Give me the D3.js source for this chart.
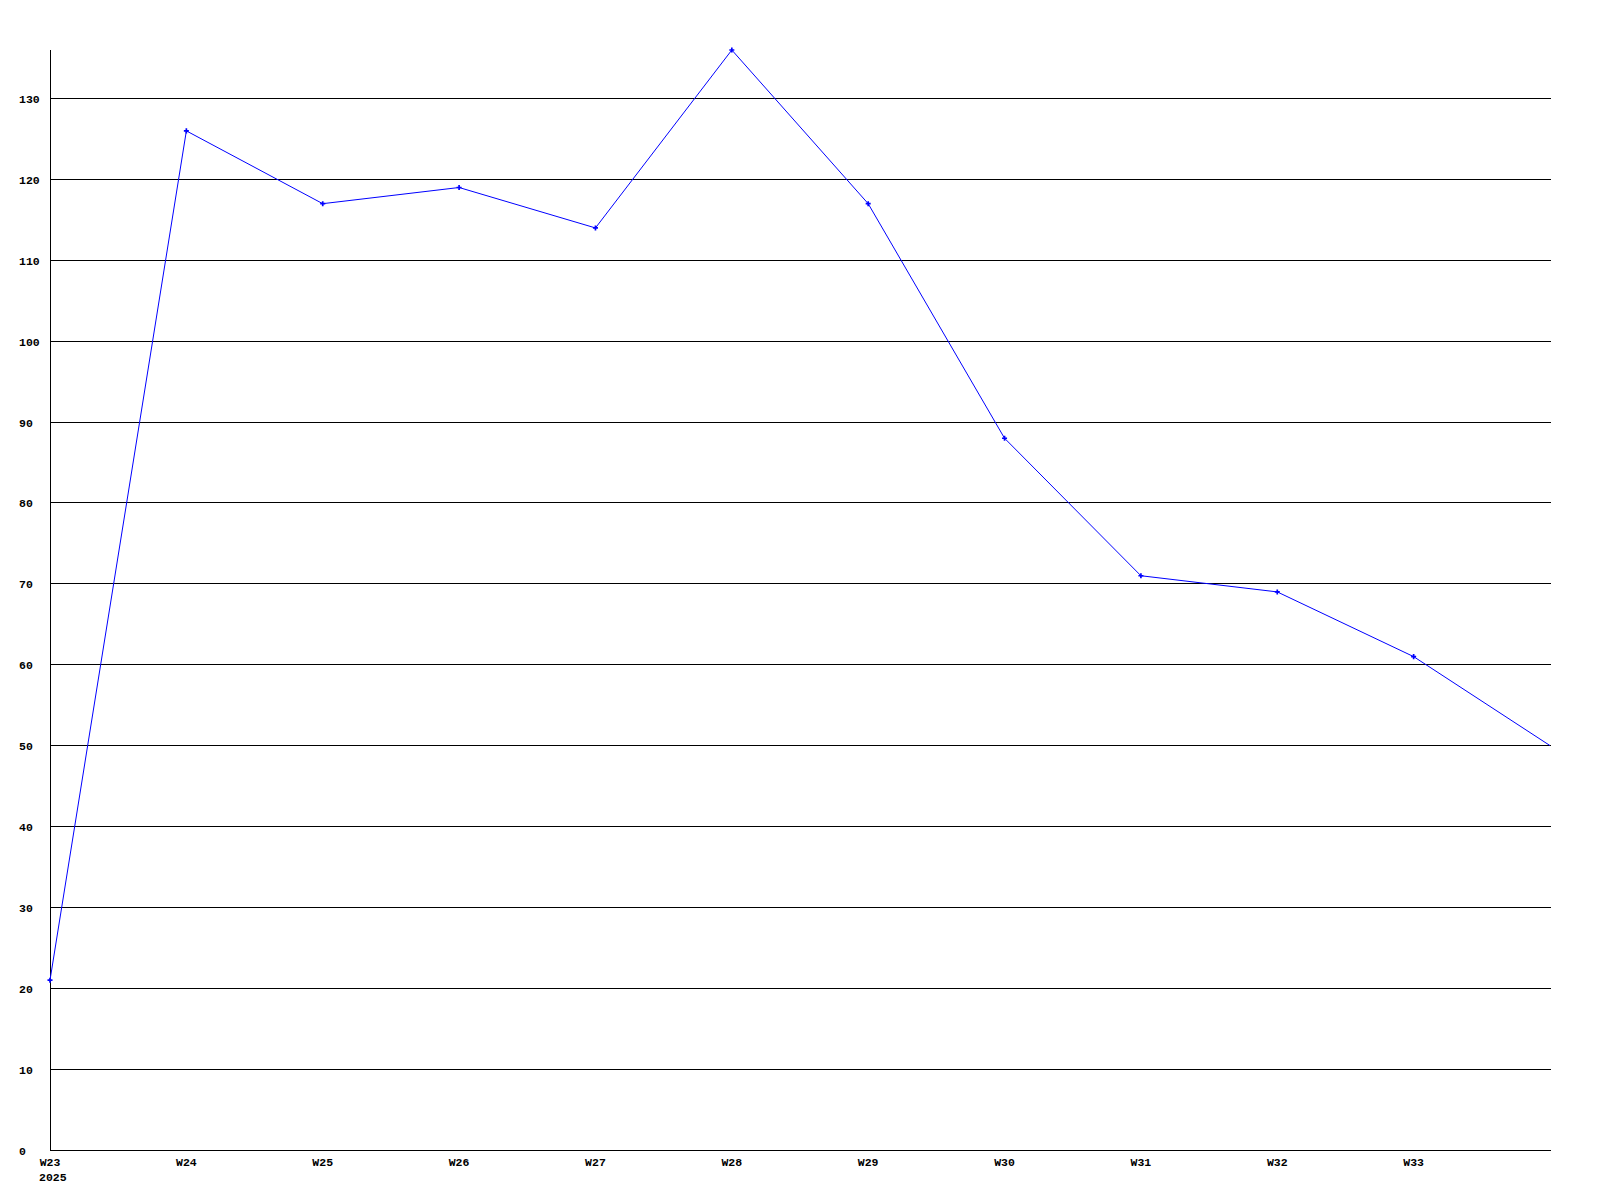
<!DOCTYPE html>
<html><head><meta charset="utf-8">
<script src="https://cdn.jsdelivr.net/npm/d3@7"></script>
<style>
html,body{margin:0;padding:0;background:#fff;}
svg text{font-family:"Liberation Mono","DejaVu Sans Mono",monospace;font-weight:bold;font-size:11.5px;fill:#000;}
</style></head>
<body>
<svg id="chart" width="1600" height="1200"></svg>
<script>
const weeks = ["W23","W24","W25","W26","W27","W28","W29","W30","W31","W32","W33","W34"];
const values = [21,126,117,119,114,136,117,88,71,69,61,50];
const yTicks = [0,10,20,30,40,50,60,70,80,90,100,110,120,130];
const labeledWeeks = ["W23","W24","W25","W26","W27","W28","W29","W30","W31","W32","W33"];
const yearLabel = "2025";

const svg = d3.select("#chart");
const mLeft = 50, mRight = 1550, mTop = 50, mBottom = 1150;

const x = d3.scalePoint().domain(weeks).range([mLeft, mRight]);
const y = d3.scaleLinear().domain([0, d3.max(values)]).range([mBottom, mTop]);

// gridlines
svg.append("g").selectAll("line").data(yTicks).join("line")
  .attr("x1", mLeft).attr("x2", mRight + 1)
  .attr("y1", d => Math.floor(y(d)) + 0.5).attr("y2", d => Math.floor(y(d)) + 0.5)
  .attr("stroke", "#000").attr("stroke-width", 1);

// y axis line
svg.append("line").attr("x1", mLeft + 0.5).attr("x2", mLeft + 0.5)
  .attr("y1", mTop).attr("y2", mBottom + 0.5).attr("stroke", "#000");

// y labels
svg.append("g").selectAll("text").data(yTicks).join("text")
  .attr("x", 19).attr("y", d => Math.floor(y(d)) + 0.5)
  .attr("dy", "0.35em").attr("text-anchor", "start")
  .text(d => d);

// x labels
svg.append("g").selectAll("text").data(labeledWeeks).join("text")
  .attr("x", d => x(d)).attr("y", 1162).attr("dy", "0.35em")
  .attr("text-anchor", "middle").text(d => d);
svg.append("text").attr("x", 39).attr("y", 1177).attr("dy", "0.35em")
  .attr("text-anchor", "start").text(yearLabel);

// line
const data = weeks.map((w, i) => ({w, v: values[i]}));
svg.append("path").datum(data)
  .attr("fill", "none").attr("stroke", "#0000ff").attr("stroke-width", 1)
  .attr("d", d3.line().x(d => x(d.w)).y(d => y(d.v)));

// markers (not on last point)
svg.append("g").selectAll("path").data(data.slice(0, -1)).join("path")
  .attr("transform", d => `translate(${x(d.w)},${y(d.v)})`)
  .attr("d", d3.symbol().type(d3.symbolCross).size(14))
  .attr("fill", "#0000ff");
</script>
</body></html>
